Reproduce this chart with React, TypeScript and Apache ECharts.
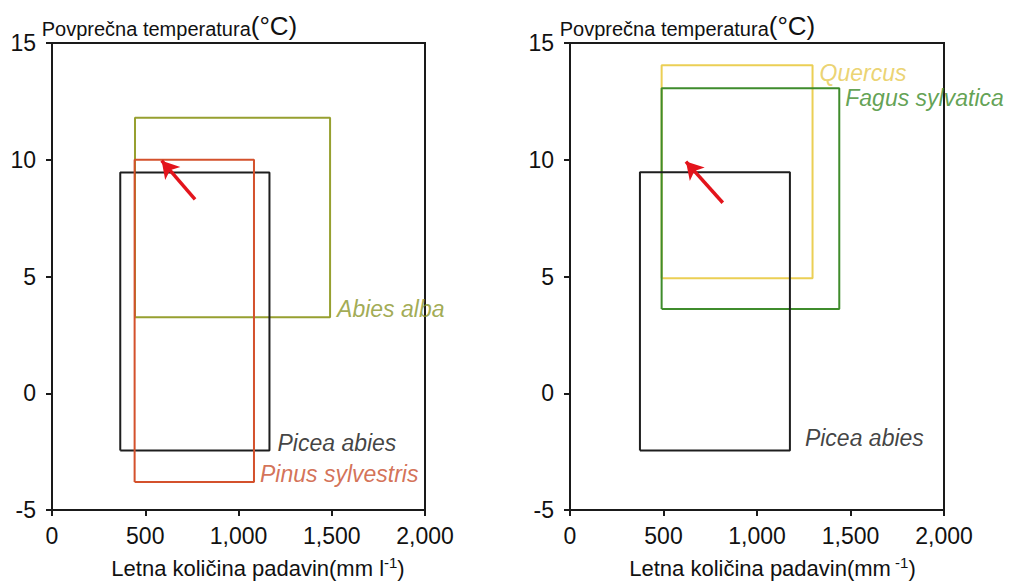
import React, { useEffect, useRef } from "react";
import * as echarts from "echarts";

// ---- Data ----
const yTicks = [-5, 0, 5, 10, 15];
const xTicks = [0, 500, 1000, 1500, 2000];

// Left panel
const leftSpecies = ["Abies alba", "Picea abies", "Pinus sylvestris"];
const leftColors = ["#97a030", "#1e1e1e", "#d4512c"];
const leftLabelColors = ["#8a9628", "#111111", "#c94e2c"];
const leftPrecipMin = [445, 366, 443];
const leftPrecipMax = [1491, 1166, 1083];
const leftTempMin = [3.25, -2.45, -3.8];
const leftTempMax = [11.8, 9.45, 10.0];
const leftArrowFrom = [767, 8.3];
const leftArrowTo = [588, 9.96];

// Right panel
const rightSpecies = ["Quercus", "Fagus sylvatica", "Picea abies"];
const rightColors = ["#ebcf55", "#3f8c2c", "#1e1e1e"];
const rightLabelColors = ["#e6c84e", "#3a8a28", "#111111"];
const rightPrecipMin = [490, 490, 374];
const rightPrecipMax = [1297, 1440, 1176];
const rightTempMin = [4.92, 3.61, -2.45];
const rightTempMax = [14.05, 13.06, 9.47];
const rightArrowFrom = [817, 8.16];
const rightArrowTo = [620, 9.92];

const FONT = "Liberation Sans, Arial, sans-serif";

function rectPoints(x1: number, x2: number, y1: number, y2: number) {
  return [
    [x1, y1],
    [x2, y1],
    [x2, y2],
    [x1, y2],
    [x1, y1],
  ];
}

export default function App() {
  const ref = useRef<HTMLDivElement>(null);

  useEffect(() => {
    if (!ref.current) return;
    const chart = echarts.init(ref.current, null, { renderer: "svg" });

    const xAxisBase = (gridIndex: number, nameRich: string, padLeft: number) => ({
      type: "value",
      gridIndex,
      min: xTicks[0],
      max: xTicks[xTicks.length - 1],
      interval: 500,
      splitLine: { show: false },
      axisLine: { show: true, onZero: false, lineStyle: { color: "#1a1a1a", width: 2 } },
      axisTick: { show: true, length: 6, lineStyle: { color: "#1a1a1a", width: 2 } },
      axisLabel: {
        margin: 14,
        color: "#111",
        fontFamily: FONT,
        fontSize: 23,
        formatter: (v: number) => v.toLocaleString("en-US"),
      },
      name: nameRich,
      nameLocation: "middle",
      nameGap: 43,
      nameTextStyle: {
        color: "#111",
        fontFamily: FONT,
        fontSize: 22,
        padding: [0, 0, 0, padLeft],
        rich: {
          a: { fontFamily: FONT, fontSize: 22, color: "#111", lineHeight: 26, verticalAlign: "bottom" },
          s: { fontFamily: FONT, fontSize: 15, color: "#111", lineHeight: 26, verticalAlign: "top", padding: [2, 0, 0, 0] },
        },
      },
    });

    const yAxisBase = (gridIndex: number, padLeft: number) => ({
      type: "value",
      gridIndex,
      min: yTicks[0],
      max: yTicks[yTicks.length - 1],
      interval: 5,
      splitLine: { show: false },
      axisLine: { show: true, onZero: false, lineStyle: { color: "#1a1a1a", width: 2 } },
      axisTick: { show: true, length: 6, lineStyle: { color: "#1a1a1a", width: 2 } },
      axisLabel: {
        margin: 16,
        color: "#111",
        fontFamily: FONT,
        fontSize: 23,
      },
      name: "{a|Povprečna temperatura}{b|(°C)}",
      nameLocation: "end",
      nameGap: 4,
      nameTextStyle: {
        padding: [0, 0, 0, padLeft],
        rich: {
          a: { fontFamily: FONT, fontSize: 20, color: "#111", lineHeight: 28, verticalAlign: "bottom" },
          b: { fontFamily: FONT, fontSize: 26, color: "#111", lineHeight: 28, verticalAlign: "bottom" },
        },
      },
    });

    const series: any[] = [];
    const addPanel = (
      idx: number,
      names: string[],
      colors: string[],
      labelColors: string[],
      pMin: number[],
      pMax: number[],
      tMin: number[],
      tMax: number[],
      labelAnchors: ("top" | "bottom")[],
      labelOffsets: number[][],
      arrowFrom: number[],
      arrowTo: number[]
    ) => {
      names.forEach((n, i) => {
        series.push({
          type: "line",
          name: n,
          xAxisIndex: idx,
          yAxisIndex: idx,
          data: rectPoints(pMin[i], pMax[i], tMin[i], tMax[i]),
          showSymbol: false,
          symbol: "none",
          lineStyle: { color: colors[i], width: 2 },
          z: 3,
          silent: true,
        });
        const anchorY = labelAnchors[i] === "top" ? tMax[i] : tMin[i];
        series.push({
          type: "scatter",
          name: n + " label",
          xAxisIndex: idx,
          yAxisIndex: idx,
          data: [[pMax[i], anchorY, n]],
          symbolSize: 0,
          label: {
            show: true,
            position: "right",
            distance: 0,
            offset: labelOffsets[i],
            formatter: (p: any) => p.data[2],
            color: labelColors[i],
            fontFamily: FONT,
            fontStyle: "italic",
            fontSize: 23,
          },
          z: 4,
          silent: true,
        });
      });
      series.push({
        type: "line",
        name: "arrow" + idx,
        xAxisIndex: idx,
        yAxisIndex: idx,
        data: [],
        markLine: {
          silent: true,
          symbol: ["none", "arrow"],
          symbolSize: [15, 17],
          label: { show: false },
          lineStyle: { color: "#e3141c", width: 3.5, type: "solid" },
          data: [[{ coord: arrowFrom }, { coord: arrowTo }]],
        },
        z: 5,
      });
    };

    addPanel(
      0,
      leftSpecies,
      leftColors,
      leftLabelColors,
      leftPrecipMin,
      leftPrecipMax,
      leftTempMin,
      leftTempMax,
      ["bottom", "bottom", "bottom"],
      [
        [7, -8],
        [8, -7],
        [6, -8],
      ],
      leftArrowFrom,
      leftArrowTo
    );
    addPanel(
      1,
      rightSpecies,
      rightColors,
      rightLabelColors,
      rightPrecipMin,
      rightPrecipMax,
      rightTempMin,
      rightTempMax,
      ["top", "top", "bottom"],
      [
        [7, 8],
        [6, 10],
        [15, -12],
      ],
      rightArrowFrom,
      rightArrowTo
    );

    chart.setOption({
      animation: false,
      backgroundColor: "#ffffff",
      grid: [
        { left: 52, right: 589, top: 43, bottom: 67, show: true, borderColor: "#1a1a1a", borderWidth: 2, backgroundColor: "transparent" },
        { left: 570, right: 70, top: 43, bottom: 68, show: true, borderColor: "#1a1a1a", borderWidth: 2, backgroundColor: "transparent" },
      ],
      xAxis: [
        xAxisBase(0, "{a|Letna količina padavin(mm l}{s|-1}{a|)}", 39),
        xAxisBase(1, "{a|Letna količina padavin(mm}{s| -1}{a|)}", 31),
      ],
      yAxis: [yAxisBase(0, 235), yAxisBase(1, 235)],
      series,
    });

    return () => chart.dispose();
  }, []);

  return (
    <div
      ref={ref}
      style={{ position: "fixed", left: 0, top: 0, width: 1014, height: 584 }}
    />
  );
}
